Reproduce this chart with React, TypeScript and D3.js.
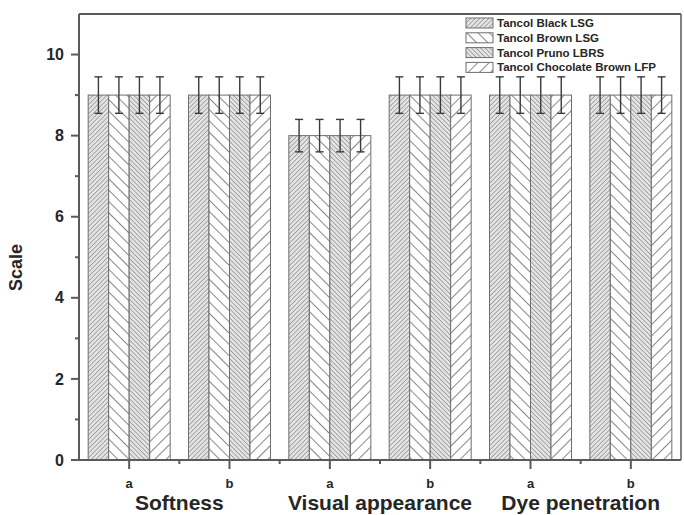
import React, { useEffect } from 'react';
import * as d3 from 'd3';

const groupNames = ['Softness', 'Visual appearance', 'Dye penetration'];
const subLabels = ['a', 'b', 'a', 'b', 'a', 'b'];
const seriesNames = [
  'Tancol Black LSG',
  'Tancol Brown LSG',
  'Tancol Pruno LBRS',
  'Tancol Chocolate Brown LFP',
];
const blackLSG = [9, 9, 8, 9, 9, 9];
const brownLSG = [9, 9, 8, 9, 9, 9];
const prunoLBRS = [9, 9, 8, 9, 9, 9];
const chocolateLFP = [9, 9, 8, 9, 9, 9];
const errors = [0.45, 0.45, 0.4, 0.45, 0.45, 0.45];
const yTicks = [0, 2, 4, 6, 8, 10];

const seriesValues = [blackLSG, brownLSG, prunoLBRS, chocolateLFP];
const patternIds = ['pDense1', 'pWide2', 'pDense3', 'pWide4'];

export default function App() {
  useEffect(() => {
    document.body.style.margin = '0';
  }, []);

  const width = 684;
  const height = 515;
  const margin = { top: 14, right: 3, bottom: 55, left: 79 };
  const innerW = width - margin.left - margin.right;
  const innerH = height - margin.top - margin.bottom;

  const x = d3.scaleLinear().domain([-0.5, 5.5]).range([0, innerW]);
  const y = d3.scaleLinear().domain([0, 11]).range([innerH, 0]);
  const groupW = 82;
  const barW = groupW / seriesNames.length;

  const axisColor = '#5a5a5a';
  const textColor = '#262626';
  const font = 'Arial, "Liberation Sans", sans-serif';

  const minorY = d3.range(1, 11, 2);
  const minorX = d3.range(0, 5).map(i => i + 0.5);

  return (
    <svg width={width} height={height} style={{ display: 'block' }} fontFamily={font}>
      <defs>
        <pattern id="pDense1" patternUnits="userSpaceOnUse" width={3.2} height={3.2} patternTransform="rotate(45)">
          <rect width={3.2} height={3.2} fill="#e4e4e4" />
          <line x1={0} y1={0} x2={0} y2={3.2} stroke="#6a6a6a" strokeWidth={1} />
        </pattern>
        <pattern id="pWide2" patternUnits="userSpaceOnUse" width={8} height={8} patternTransform="rotate(-45)">
          <rect width={8} height={8} fill="#fff" />
          <line x1={0} y1={0} x2={0} y2={8} stroke="#555" strokeWidth={1.4} />
        </pattern>
        <pattern id="pDense3" patternUnits="userSpaceOnUse" width={3.2} height={3.2} patternTransform="rotate(-45)">
          <rect width={3.2} height={3.2} fill="#e4e4e4" />
          <line x1={0} y1={0} x2={0} y2={3.2} stroke="#6a6a6a" strokeWidth={1} />
        </pattern>
        <pattern id="pWide4" patternUnits="userSpaceOnUse" width={8} height={8} patternTransform="rotate(45)">
          <rect width={8} height={8} fill="#fff" />
          <line x1={0} y1={0} x2={0} y2={8} stroke="#555" strokeWidth={1.4} />
        </pattern>
      </defs>
      <g transform={`translate(${margin.left},${margin.top})`}>
        {subLabels.map((_, gi) =>
          seriesValues.map((vals, si) => {
            const bx = x(gi) - groupW / 2 + si * barW;
            return (
              <rect
                key={`b${gi}-${si}`}
                x={bx}
                y={y(vals[gi])}
                width={barW}
                height={innerH - y(vals[gi])}
                fill={`url(#${patternIds[si]})`}
                stroke="#6e6e6e"
                strokeWidth={1}
              />
            );
          })
        )}
        {subLabels.map((_, gi) =>
          seriesValues.map((vals, si) => {
            const cx = x(gi) - groupW / 2 + (si + 0.5) * barW;
            const lo = y(vals[gi] - errors[gi]);
            const hi = y(vals[gi] + errors[gi]);
            return (
              <g key={`e${gi}-${si}`} stroke="#3a3a3a" strokeWidth={1.4}>
                <line x1={cx} x2={cx} y1={lo} y2={hi} />
                <line x1={cx - 4} x2={cx + 4} y1={hi} y2={hi} />
                <line x1={cx - 4} x2={cx + 4} y1={lo} y2={lo} />
              </g>
            );
          })
        )}
        {/* frame */}
        <line x1={0} x2={innerW} y1={0} y2={0} stroke={axisColor} strokeWidth={2} />
        <line x1={innerW} x2={innerW} y1={0} y2={innerH} stroke={axisColor} strokeWidth={1.5} />
        <line x1={0} x2={0} y1={0} y2={innerH} stroke={axisColor} strokeWidth={2} />
        <line x1={-8} x2={innerW} y1={innerH} y2={innerH} stroke={axisColor} strokeWidth={2} />
        {yTicks.map(t => (
          <g key={`yt${t}`}>
            <line x1={-8} x2={0} y1={y(t)} y2={y(t)} stroke={axisColor} strokeWidth={2} />
            <text x={-15} y={y(t)} dy="0.35em" textAnchor="end" fontSize={16} fontWeight="bold" fill={textColor}>
              {t}
            </text>
          </g>
        ))}
        {minorY.map(t => (
          <line key={`ym${t}`} x1={-4} x2={0} y1={y(t)} y2={y(t)} stroke={axisColor} strokeWidth={2} />
        ))}
        {subLabels.map((l, i) => (
          <g key={`xt${i}`}>
            <line x1={x(i)} x2={x(i)} y1={innerH} y2={innerH + 9} stroke={axisColor} strokeWidth={2} />
            <text x={x(i)} y={innerH + 28} textAnchor="middle" fontSize={13} fontWeight="bold" fill={textColor}>
              {l}
            </text>
          </g>
        ))}
        {minorX.map(t => (
          <line key={`xm${t}`} x1={x(t)} x2={x(t)} y1={innerH} y2={innerH + 4} stroke={axisColor} strokeWidth={2} />
        ))}
        {groupNames.map((g, i) => (
          <text key={g} x={x(i * 2 + 0.5)} y={innerH + 50} textAnchor="middle" fontSize={21} fontWeight="bold" fill={textColor}>
            {g}
          </text>
        ))}
        <text
          transform={`translate(${-57},${y(4.75)}) rotate(-90)`}
          textAnchor="middle"
          fontSize={18}
          fontWeight="bold"
          fill={textColor}
        >
          Scale
        </text>
        {/* legend */}
        <g transform={`translate(${387},${4})`}>
          {seriesNames.map((n, i) => (
            <g key={n} transform={`translate(0,${i * 14.8})`}>
              <rect x={0} y={0} width={27} height={10} fill={`url(#${patternIds[i]})`} stroke="#6e6e6e" strokeWidth={1} />
              <text x={31} y={5} dy="0.35em" fontSize={11.5} fontWeight="bold" fill={textColor}>
                {n}
              </text>
            </g>
          ))}
        </g>
      </g>
    </svg>
  );
}
